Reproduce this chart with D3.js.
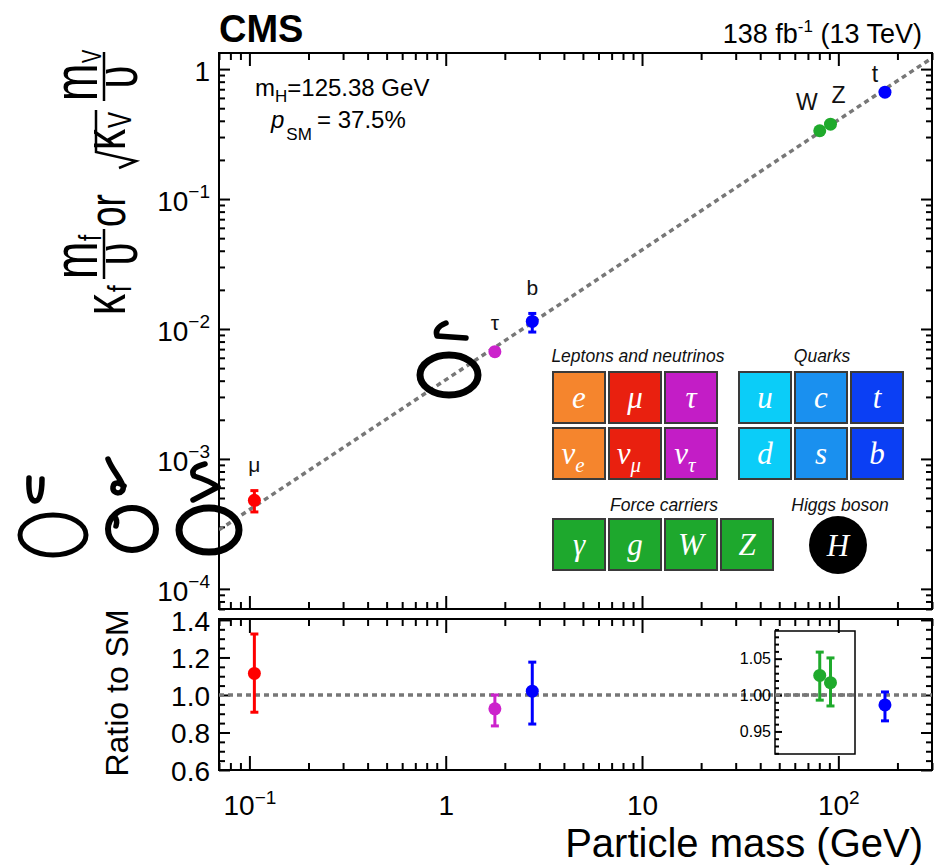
<!DOCTYPE html>
<html>
<head>
<meta charset="utf-8">
<style>
html, body { margin: 0; padding: 0; background: #fff; }
svg { display: block; font-family: "Liberation Sans", Arial, Helvetica, sans-serif; }
.tick line { stroke: #000; stroke-width: 2; }
</style>
</head>
<body>
<svg id="chart" width="935" height="865"></svg>
<script src="https://cdn.jsdelivr.net/npm/d3@7"></script>
<script>
// values
var particles = ["μ", "τ", "b", "W", "Z", "t"];
var masses = [0.106, 1.78, 2.76, 80.4, 91.2, 172.8];      // GeV
var ratios = [1.115, 0.926, 1.02, 1.027, 1.017, 0.947];  // ratio to SM
var errUp = [0.21, 0.074, 0.155, 0.032, 0.034, 0.069];
var errDown = [0.207, 0.091, 0.175, 0.034, 0.032, 0.085];
var colors = ["#ff0000", "#cc22cc", "#0000ff", "#1faa2c", "#1faa2c", "#0000ff"];
var inInset = [false, false, false, true, true, false];
var vev = 246.22;
var smLineX = [0.07, 300];

var yTicksTop = [1e-4, 1e-3, 1e-2, 1e-1, 1];
var yTickLabelsTop = [["10", "−4"], ["10", "−3"], ["10", "−2"], ["10", "−1"], ["1", ""]];
var xTicks = [0.1, 1, 10, 100];
var xTickLabels = [["10", "−1"], ["1", ""], ["10", ""], ["10", "2"]];
var ratioTicks = [0.6, 0.8, 1.0, 1.2, 1.4];
var insetTicks = [0.95, 1.00, 1.05];

// the particle chart in the corner
var leptonCells = [["e", ""], ["μ", ""], ["τ", ""], ["ν", "e"], ["ν", "μ"], ["ν", "τ"]];
var leptonColors = ["#f5852d", "#e9200f", "#c31dc6"];
var quarkCells = [["u", ""], ["c", ""], ["t", ""], ["d", ""], ["s", ""], ["b", ""]];
var quarkColors = ["#0bcdf8", "#1a90ef", "#0b3ff4"];
var bosonCells = ["γ", "g", "W", "Z"];
var bosonColor = "#1ea82d";

var svg = d3.select("#chart");

var x = d3.scaleLog().domain([0.07, 300]).range([219, 932]);
var yTop = d3.scaleLog().domain([7.0e-5, 1.33]).range([609, 53]);
var yRat = d3.scaleLinear().domain([0.6, 1.405]).range([770, 619]);
var yIns = d3.scaleLinear().domain([0.919, 1.088]).range([754, 631]);

function minorLog(lo, hi) {
  var out = [];
  for (var e = lo; e <= hi; e++)
    for (var k = 2; k <= 9; k++) out.push(k * Math.pow(10, e));
  return out;
}
var xMinor = minorLog(-2, 2).filter(function (v) { return v >= 0.07 && v <= 300; });
var yMinorTop = minorLog(-5, 0).filter(function (v) { return v >= 7e-5 && v <= 1.33; });
var ratioMinor = d3.range(0.65, 1.41, 0.05).filter(function (v) { return Math.round(v * 100) % 20 !== 0; });
var insetMinor = d3.range(0.92, 1.09, 0.01).filter(function (v) { return Math.round(v * 100) % 5 !== 0; });

// ticks pointing inward on a side
function ticks(axisFn, scale, vals, len, tx, ty) {
  var g = svg.append("g").attr("transform", "translate(" + tx + "," + ty + ")")
    .call(axisFn(scale).tickValues(vals).tickSize(-len).tickSizeOuter(0).tickFormat(""));
  g.select(".domain").remove();
  return g;
}

// frames
[[53, 609], [619, 770]].forEach(function (p) {
  svg.append("rect").attr("x", 219).attr("y", p[0]).attr("width", 932 - 219).attr("height", p[1] - p[0])
    .attr("fill", "none").attr("stroke", "#000").attr("stroke-width", 2);
});

// top panel ticks
ticks(d3.axisBottom, x, xTicks, 13, 0, 609);
ticks(d3.axisBottom, x, xMinor, 7, 0, 609);
ticks(d3.axisTop, x, xTicks, 13, 0, 53);
ticks(d3.axisTop, x, xMinor, 7, 0, 53);
ticks(d3.axisLeft, yTop, yTicksTop, 11, 219, 0);
ticks(d3.axisLeft, yTop, yMinorTop, 6, 219, 0);
ticks(d3.axisRight, yTop, yTicksTop, 11, 932, 0);
ticks(d3.axisRight, yTop, yMinorTop, 6, 932, 0);
// bottom panel ticks
ticks(d3.axisBottom, x, xTicks, 14, 0, 770);
ticks(d3.axisBottom, x, xMinor, 7, 0, 770);
ticks(d3.axisTop, x, xTicks, 14, 0, 619);
ticks(d3.axisTop, x, xMinor, 7, 0, 619);
ticks(d3.axisLeft, yRat, ratioTicks, 11, 219, 0);
ticks(d3.axisLeft, yRat, ratioMinor, 6, 219, 0);
ticks(d3.axisRight, yRat, ratioTicks, 11, 932, 0);
ticks(d3.axisRight, yRat, ratioMinor, 6, 932, 0);

// tick labels
function supLabels(g, labels, supDy) {
  g.selectAll(".tick text").each(function (d, i) {
    var t = d3.select(this).text(labels[i][0]);
    if (labels[i][1]) t.append("tspan").attr("font-size", 19).attr("dy", supDy).text(labels[i][1]);
  });
}
var gy = svg.append("g").attr("transform", "translate(219,0)")
  .call(d3.axisLeft(yTop).tickValues(yTicksTop).tickSize(0).tickPadding(9));
gy.select(".domain").remove();
gy.attr("font-size", 28).attr("font-family", null);
gy.selectAll(".tick text").attr("dy", "0.42em");
supLabels(gy, yTickLabelsTop, -13);

var gx = svg.append("g").attr("transform", "translate(0,770)")
  .call(d3.axisBottom(x).tickValues(xTicks).tickSize(0).tickPadding(25));
gx.select(".domain").remove();
gx.attr("font-size", 28).attr("font-family", null);
supLabels(gx, xTickLabels, -11);

var gr = svg.append("g").attr("transform", "translate(219,0)")
  .call(d3.axisLeft(yRat).tickValues(ratioTicks).tickSize(0).tickPadding(9).tickFormat(d3.format(".1f")));
gr.select(".domain").remove();
gr.attr("font-size", 28).attr("font-family", null);
gr.selectAll(".tick text").attr("dy", "0.36em");

// axis titles
svg.append("text").attr("x", 923).attr("y", 857).attr("text-anchor", "end")
  .attr("font-size", 40).text("Particle mass (GeV)");
svg.append("text").attr("transform", "translate(128,693) rotate(-90)").attr("text-anchor", "middle")
  .attr("font-size", 32).text("Ratio to SM");

// y title of the top panel, drawn rotated and stretched across
function rot(bx, sy, fs, str, anchor) {
  return svg.append("text").attr("transform", "translate(" + bx + "," + sy + ") rotate(-90) scale(1,1.4)")
    .attr("font-size", fs).attr("text-anchor", anchor || "start").text(str);
}
rot(125, 315, 42, "κ");
rot(131, 292, 24, "f");
rot(97, 279, 45, "m");
rot(101, 241, 22, "f");
svg.append("line").attr("x1", 104).attr("x2", 104).attr("y1", 229).attr("y2", 279).attr("stroke", "#000").attr("stroke-width", 2.5);
rot(137, 254, 42, "υ", "middle");
rot(125, 227, 37, "or");
svg.append("path").attr("d", "M119,168 L136,161 L96,152 L96,110").attr("fill", "none").attr("stroke", "#000").attr("stroke-width", 2.5);
rot(125, 150, 42, "κ");
rot(131, 128, 24, "V");
rot(97, 101, 45, "m");
rot(101, 63, 20, "V");
svg.append("line").attr("x1", 104).attr("x2", 104).attr("y1", 52).attr("y2", 101).attr("stroke", "#000").attr("stroke-width", 2.5);
rot(137, 77, 42, "υ", "middle");

// header
svg.append("text").attr("x", 219).attr("y", 42).attr("font-size", 38).attr("font-weight", "bold").text("CMS");
var lumi = svg.append("text").attr("x", 922).attr("y", 43).attr("text-anchor", "end").attr("font-size", 27);
lumi.append("tspan").text("138 fb");
lumi.append("tspan").attr("font-size", 17).attr("dy", -11).text("-1");
lumi.append("tspan").attr("dy", 11).text(" (13 TeV)");

var mh = svg.append("text").attr("x", 255).attr("y", 96).attr("font-size", 24);
mh.append("tspan").text("m");
mh.append("tspan").attr("font-size", 17).attr("dy", 6).text("H");
mh.append("tspan").attr("dy", -6).text("=125.38 GeV");
var psm = svg.append("text").attr("x", 271).attr("y", 128).attr("font-size", 24);
psm.append("tspan").attr("font-style", "italic").text("p");
psm.append("tspan").attr("font-size", 17).attr("dy", 12).attr("dx", 2).text("SM");
psm.append("tspan").attr("x", 317).attr("dy", -12).text("= 37.5%");

// SM expectation lines
svg.append("clipPath").attr("id", "topclip").append("rect")
  .attr("x", 219).attr("y", 53).attr("width", 713).attr("height", 556);
svg.append("path")
  .attr("d", d3.line().x(function (d) { return x(d); }).y(function (d) { return yTop(d / vev); })(smLineX))
  .attr("clip-path", "url(#topclip)")
  .attr("stroke", "#777").attr("stroke-width", 3.5).attr("stroke-dasharray", "5,4").attr("fill", "none");
svg.append("line").attr("x1", 219).attr("x2", 932).attr("y1", yRat(1)).attr("y2", yRat(1))
  .attr("stroke", "#777").attr("stroke-width", 3.5).attr("stroke-dasharray", "5,4");

// inset frame for W and Z
svg.append("rect").attr("x", 775).attr("y", 631).attr("width", 80).attr("height", 123)
  .attr("fill", "none").attr("stroke", "#000").attr("stroke-width", 1.5);
ticks(d3.axisLeft, yIns, insetTicks, 7, 775, 0).selectAll("line").attr("stroke-width", 1.5);
ticks(d3.axisLeft, yIns, insetMinor, 4, 775, 0).selectAll("line").attr("stroke-width", 1.5);
var gi = svg.append("g").attr("transform", "translate(775,0)")
  .call(d3.axisLeft(yIns).tickValues(insetTicks).tickSize(0).tickPadding(4).tickFormat(d3.format(".2f")));
gi.select(".domain").remove();
gi.attr("font-size", 16).attr("font-family", null).attr("fill", "#222");
svg.append("line").attr("x1", 775).attr("x2", 855).attr("y1", yIns(1)).attr("y2", yIns(1))
  .attr("stroke", "#777").attr("stroke-width", 3.5).attr("stroke-dasharray", "5,4");

// points with error bars (bars hidden when inside the marker)
var markerR = 6.5;
function errPoint(px, py, lo, hi, col) {
  var g = svg.append("g").attr("stroke", col).attr("stroke-width", 3);
  [lo, hi].forEach(function (end) {
    if (Math.abs(end - py) <= markerR) return;
    g.append("line").attr("x1", px).attr("x2", px).attr("y1", py).attr("y2", end);
    g.append("line").attr("x1", px - 4).attr("x2", px + 4).attr("y1", end).attr("y2", end);
  });
  svg.append("circle").attr("cx", px).attr("cy", py).attr("r", markerR).attr("fill", col);
}
var labelOffsets = [[0, -28], [0, -22], [0, -26], [-13, -21], [8, -21], [-10, -10]];
masses.forEach(function (m, i) {
  var sm = m / vev;
  errPoint(x(m), yTop(sm * ratios[i]), yTop(sm * (ratios[i] - errDown[i])), yTop(sm * (ratios[i] + errUp[i])), colors[i]);
  var ys = inInset[i] ? yIns : yRat;
  errPoint(x(m), ys(ratios[i]), ys(ratios[i] - errDown[i]), ys(ratios[i] + errUp[i]), colors[i]);
  svg.append("text").attr("x", x(m) + labelOffsets[i][0]).attr("y", yTop(sm * ratios[i]) + labelOffsets[i][1])
    .attr("text-anchor", "middle").attr("font-size", i < 3 ? 21 : 23).attr("fill", "#111").text(particles[i]);
});

// particle table
var leg = svg.append("g").attr("font-family", "'Liberation Serif', 'Times New Roman', serif")
  .attr("font-style", "italic").attr("fill", "#fff");
var cw = 52, ch = 51, step = 56;
function cell(cx, cy, col, main, sub) {
  leg.append("rect").attr("x", cx).attr("y", cy).attr("width", cw).attr("height", ch)
    .attr("fill", col).attr("stroke", "#3a3a3a").attr("stroke-width", 2);
  var t = leg.append("text").attr("x", cx + cw / 2 - (sub ? 6 : 0)).attr("y", cy + ch / 2 + 10)
    .attr("text-anchor", "middle").attr("font-size", 31).text(main);
  if (sub) t.append("tspan").attr("font-size", 21).attr("dy", 8).text(sub);
}
leptonCells.forEach(function (c, i) { cell(553 + (i % 3) * step, 372 + Math.floor(i / 3) * step, leptonColors[i % 3], c[0], c[1]); });
quarkCells.forEach(function (c, i) { cell(739 + (i % 3) * step, 372 + Math.floor(i / 3) * step, quarkColors[i % 3], c[0], c[1]); });
bosonCells.forEach(function (c, i) { cell(553 + i * step, 519, bosonColor, c, ""); });
leg.append("circle").attr("cx", 838).attr("cy", 545).attr("r", 29).attr("fill", "#000");
leg.append("text").attr("x", 838).attr("y", 556).attr("text-anchor", "middle").attr("font-size", 31).text("H");
var heads = [["Leptons and neutrinos", 638, 362], ["Quarks", 822, 362], ["Force carriers", 664, 511], ["Higgs boson", 840, 511]];
heads.forEach(function (h) {
  svg.append("text").attr("x", h[1]).attr("y", h[2]).attr("text-anchor", "middle")
    .attr("font-size", 17.5).attr("font-style", "italic").attr("fill", "#111").text(h[0]);
});

// hand-drawn marks over the picture
var loops = [[53, 535, 33, 20, 5], [132, 529, 24, 21, 6], [209, 530, 30, 22, 7], [449, 375, 29, 20, 7]];
loops.forEach(function (o) {
  svg.append("ellipse").attr("cx", o[0]).attr("cy", o[1]).attr("rx", o[2]).attr("ry", o[3])
    .attr("fill", "none").attr("stroke", "#000").attr("stroke-width", o[4]);
});
var strokes = [
  "M29,478 Q28,500 35,501 Q42,501 42,479",
  "M108,459 C112,470 120,477 123,486 C125,495 112,495 113,487 C114,481 120,483 124,486",
  "M114,516 Q118,520 116,526",
  "M205,464 Q189,468 194,476 Q210,481 218,487 L193,500",
  "M446,323 Q434,328 437,336 L466,338"
];
strokes.forEach(function (d) {
  svg.append("path").attr("d", d).attr("fill", "none").attr("stroke", "#000")
    .attr("stroke-width", 5.5).attr("stroke-linecap", "round").attr("stroke-linejoin", "round");
});
</script>
</body>
</html>
